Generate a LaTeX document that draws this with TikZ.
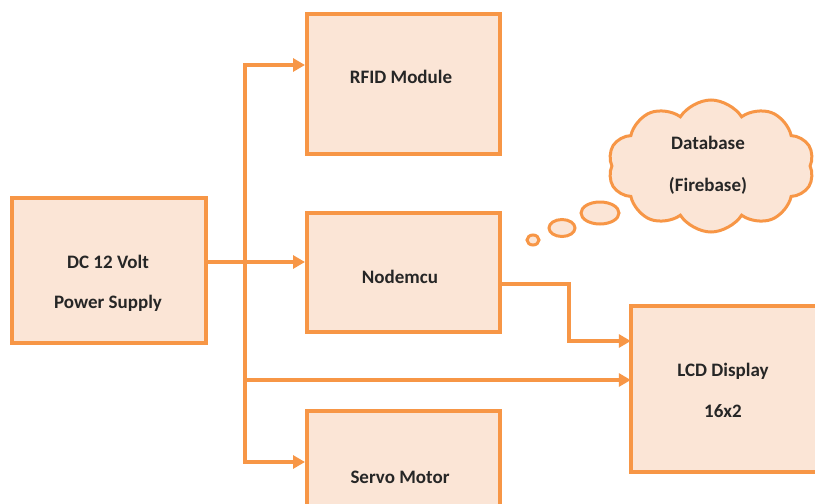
\documentclass[tikz,border=0pt]{standalone}
\usepackage{fontspec}
\setmainfont{Carlito}
\usetikzlibrary{arrows.meta,shapes.symbols,shapes.geometric}
\definecolor{ob}{HTML}{F79646}
\definecolor{of}{HTML}{FBE5D6}
\definecolor{tx}{HTML}{262626}
\begin{document}
\begin{tikzpicture}[x=1pt,y=-1pt,
  box/.style={draw=ob,fill=of,line width=4pt,rectangle,inner sep=0pt},
  lbl/.style={font=\bfseries\fontsize{19}{22}\selectfont,text=tx,inner sep=0pt,anchor=base},
  conn/.style={draw=ob,line width=3.5pt},
  arr/.style={conn,-{Triangle[length=12pt,width=13pt]}},
  bub/.style={ellipse,draw=ob,fill=of,line width=3pt,inner sep=0pt}]
\useasboundingbox (0,0) rectangle (815,504);
\clip (0,0) rectangle (815,504);
\fill[white] (0,0) rectangle (815,504);
% boxes
\node[box,minimum width=194pt,minimum height=145pt] (ps) at (109,270.5) {};
\node[box,minimum width=193pt,minimum height=140pt] (rfid) at (403.5,84) {};
\node[box,minimum width=193pt,minimum height=119pt] (nm) at (403.5,272.5) {};
\node[box,minimum width=193pt,minimum height=129pt] (servo) at (403.5,475.5) {};
\node[fill=of,rectangle,inner sep=0pt,minimum width=200pt,minimum height=166pt] (lcd) at (731,389) {};
\draw[ob,line width=4pt] (lcd.north east) -- (lcd.north west) -- (lcd.south west) -- (lcd.south east);
% cloud
\node[cloud,cloud puffs=10,cloud puff arc=115,aspect=1.6,draw=ob,fill=of,line width=3pt,
      minimum width=206pt,minimum height=132pt,inner sep=0pt] (db) at (711,166) {};
\node[bub,minimum width=38pt,minimum height=22pt] (b1) at (600,213) {};
\node[bub,minimum width=26pt,minimum height=17pt] (b2) at (562,228) {};
\node[bub,minimum width=12pt,minimum height=10pt] (b3) at (533,240) {};
% labels
\node[lbl] (t1) at (401,83) {RFID Module};
\node[lbl] (t2) at (400,283) {Nodemcu};
\node[lbl] (t3) at (400,483) {Servo Motor};
\node[lbl] (t4) at (108,268) {DC 12 Volt};
\node[lbl] (t5) at (108,308) {Power Supply};
\node[lbl] (t6) at (723,376) {LCD Display};
\node[lbl] (t7) at (723,417) {16x2};
\node[lbl] (t8) at (708,149) {Database};
\node[lbl] (t9) at (708,191) {(Firebase)};
% connectors
\coordinate (jt) at (245,65);
\coordinate (jm) at (245,262);
\coordinate (jl) at (245,380);
\coordinate (jb) at (245,462);
\coordinate (k1) at (569,284);
\coordinate (k2) at (569,341);
\draw[arr] (ps.east |- jm) -- (nm.west |- jm);
\draw[arr] (jl) -- (jt) -- (rfid.west |- jt);
\draw[arr] (jm) -- (jb) -- (servo.west |- jb);
\draw[arr] (jl) -- (lcd.west |- jl);
\draw[arr] (nm.east |- k1) -- (k1) -- (k2) -- (lcd.west |- k2);
\end{tikzpicture}
\end{document}
